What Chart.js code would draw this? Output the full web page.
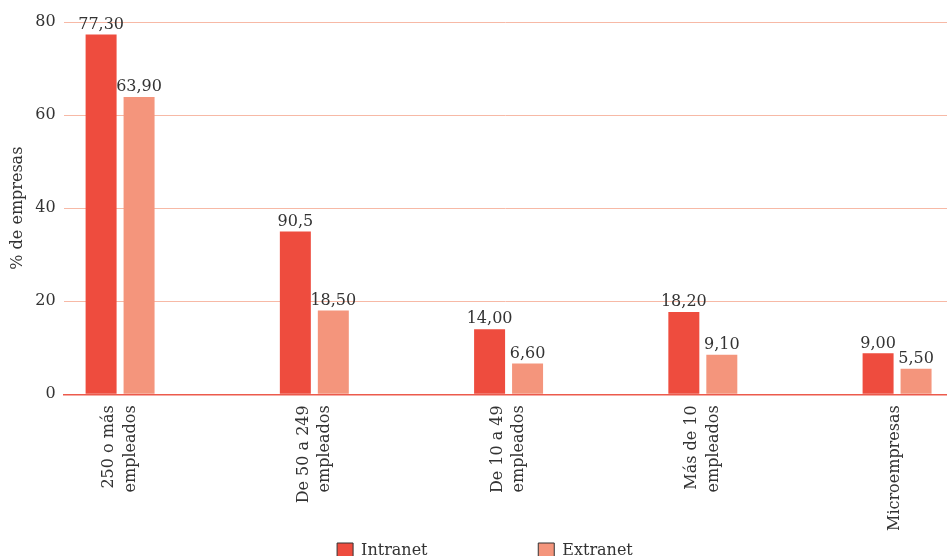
<!DOCTYPE html>
<html>
<head>
<meta charset="utf-8">
<script src="https://cdn.jsdelivr.net/npm/chart.js@4"></script>
<style>
  html, body { margin: 0; padding: 0; background: #fff; overflow: hidden; }
  #wrap { position: relative; width: 947px; height: 569px; }
</style>
</head>
<body>
<div id="wrap"><canvas id="myChart"></canvas></div>
<script>
const categorias = [['250 o más', 'empleados'], ['De 50 a 249', 'empleados'], ['De 10 a 49', 'empleados'], ['Más de 10', 'empleados'], 'Microempresas'];
const intranet = [77.3, 35, 14, 17.7, 8.8];
const extranet = [63.9, 18, 6.6, 8.5, 5.5];
const etiquetasIntranet = ['77,30', '90,5', '14,00', '18,20', '9,00'];
const etiquetasExtranet = ['63,90', '18,50', '6,60', '9,10', '5,50'];
const yTicks = [0, 20, 40, 60, 80];

const fuente = "'DejaVu Serif', serif";
const graph = document.querySelector('#myChart');

// etiquetas encima de cada barra
const valoresPlugin = {
    id: 'valores',
    afterDatasetsDraw(chart) {
        const ctx = chart.ctx;
        const textos = [etiquetasIntranet, etiquetasExtranet];
        ctx.save();
        ctx.font = `16px ${fuente}`;
        ctx.fillStyle = '#333';
        ctx.textAlign = 'center';
        ctx.textBaseline = 'bottom';
        chart.data.datasets.forEach((ds, d) => {
            chart.getDatasetMeta(d).data.forEach((bar, i) => {
                ctx.fillText(textos[d][i], bar.x, bar.y - 2);
            });
        });
        ctx.restore();
    }
};

const toPoints = arr => arr.map((v, i) => ({ x: i, y: v }));

new Chart(graph, {
    type: 'bar',
    data: {
        datasets: [{
            label: 'Intranet' + '\u00a0'.repeat(20),
            data: toPoints(intranet),
            backgroundColor: '#ee4c3e',
            borderWidth: 0,
            categoryPercentage: 0.391,
            barPercentage: 0.816
        }, {
            label: 'Extranet' + '\u00a0'.repeat(8),
            data: toPoints(extranet),
            backgroundColor: '#f4957c',
            borderWidth: 0,
            categoryPercentage: 0.391,
            barPercentage: 0.816
        }]
    },
    options: {
        responsive: true,
        maintainAspectRatio: false,
        animation: false,
        layout: { padding: { top: 22, left: 8, right: 0, bottom: 0 } },
        scales: {
            x: {
                type: 'linear',
                offset: false,
                min: -0.291,
                max: 4.257,
                // las etiquetas de dos líneas se centran un poco a la izquierda
                afterBuildTicks: axis => {
                    axis.ticks = categorias.map((c, i) => ({ value: Array.isArray(c) ? i - 0.046 : i }));
                },
                grid: { display: false, offset: false },
                border: { display: true, color: '#ec5a4c', width: 1.5 },
                ticks: {
                    autoSkip: false,
                    maxRotation: 90,
                    minRotation: 90,
                    padding: 3,
                    labelOffset: -2,
                    color: '#333',
                    font: { family: fuente, size: 16, lineHeight: 1.35 },
                    callback: (value, index) => categorias[index]
                }
            },
            y: {
                min: 0,
                max: 80,
                afterBuildTicks: axis => { axis.ticks = yTicks.map(v => ({ value: v })); },
                grid: { color: '#f7b9a6', drawTicks: false },
                border: { display: false },
                ticks: {
                    padding: 8,
                    color: '#333',
                    font: { family: fuente, size: 16 }
                },
                title: {
                    display: true,
                    text: '% de empresas',
                    color: '#333',
                    font: { family: fuente, size: 16 },
                    padding: 0
                }
            }
        },
        plugins: {
            legend: {
                position: 'bottom',
                fullSize: false,
                labels: {
                    color: '#333',
                    font: { family: fuente, size: 16 },
                    boxWidth: 16,
                    boxHeight: 16,
                    padding: 9,
                    generateLabels: chart => chart.data.datasets.map((ds, i) => ({
                        text: ds.label,
                        fillStyle: ds.backgroundColor,
                        strokeStyle: '#333',
                        lineWidth: 1,
                        fontColor: '#333',
                        datasetIndex: i
                    }))
                }
            },
            tooltip: { enabled: false }
        }
    },
    plugins: [valoresPlugin]
});
</script>
</body>
</html>
